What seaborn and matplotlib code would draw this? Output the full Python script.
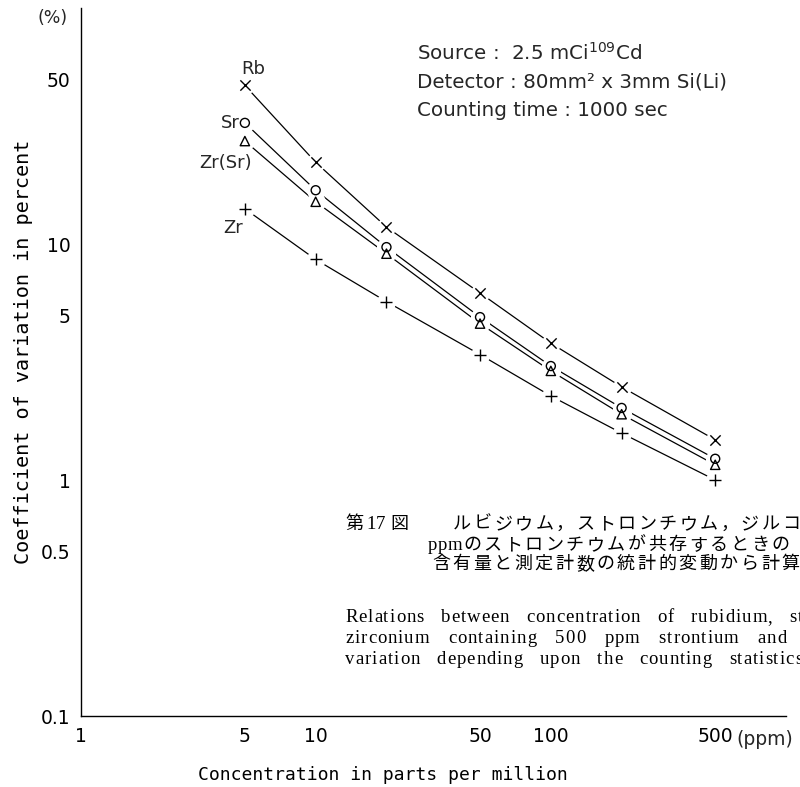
import matplotlib
matplotlib.use("Agg")
import matplotlib.pyplot as plt
from matplotlib.font_manager import FontProperties, findfont, get_font
import seaborn as sns
import pandas as pd

# Concentration (ppm) and coefficient of variation (%) per element
ppm = [5, 10, 20, 50, 100, 200, 500]
rb = [47.0, 22.2, 11.8, 6.2, 3.8, 2.48, 1.48]
sr = [32.6, 16.9, 9.7, 4.9, 3.04, 2.02, 1.23]
zr_sr = [27.3, 15.1, 9.1, 4.6, 2.9, 1.9, 1.16]
zr = [14.1, 8.6, 5.7, 3.4, 2.27, 1.58, 1.0]

series_names = ["Rb", "Sr", "Zr(Sr)", "Zr"]
series_values = [rb, sr, zr_sr, zr]

x_ticks = [1, 5, 10, 50, 100, 500, 1000]
x_tick_labels = ["1", "5", "10", "50", "100", "500", ""]
y_ticks = [0.1, 0.5, 1, 5, 10, 50, 100]
y_tick_labels = ["0.1", "0.5", "1", "5", "10", "50", ""]

df = pd.DataFrame(
    [(n, x, y) for n, vals in zip(series_names, series_values) for x, y in zip(ppm, vals)],
    columns=["element", "ppm", "cv"],
)

W, H, DPI = 800, 787, 100

sns.set_theme(style="white")
plt.rcParams["font.family"] = ["DejaVu Sans"]

fig = plt.figure(figsize=(W / DPI, H / DPI), dpi=DPI)
ax = fig.add_axes([80.5 / W, 1 - 716 / H, 705.5 / W, 708 / H])

# connecting lines
sns.lineplot(data=df, x="ppm", y="cv", hue="element", palette=["black"] * 4,
             legend=False, lw=0.9, ax=ax, sort=True, estimator=None)

# white discs break the lines around each marker
sns.scatterplot(data=df, x="ppm", y="cv", color="white", s=190, linewidth=0,
                legend=False, ax=ax, zorder=3)

marker_style = {
    "Rb": dict(marker="x", s=55, color="black", linewidth=1.0),
    "Sr": dict(marker="o", s=42, facecolors="none", edgecolor="black", linewidth=1.0),
    "Zr(Sr)": dict(marker="^", s=45, facecolors="none", edgecolor="black", linewidth=1.0),
    "Zr": dict(marker="+", s=80, color="black", linewidth=1.0),
}
for name in series_names:
    sub = df[df["element"] == name]
    sns.scatterplot(data=sub, x="ppm", y="cv", legend=False, ax=ax, zorder=4,
                    **marker_style[name])

ax.set_xscale("log")
ax.set_yscale("log")
ax.set_xlim(1, 1000)
ax.set_ylim(0.1, 100)
ax.minorticks_off()
ax.set_xticks(x_ticks)
ax.set_xticklabels(x_tick_labels)
ax.set_yticks(y_ticks)
ax.set_yticklabels(y_tick_labels)
ax.tick_params(axis="both", direction="in", length=7, width=0.9, colors="black",
               labelsize=13.5)
ax.tick_params(axis="x", pad=8)
ax.tick_params(axis="y", pad=7)
for side in ("top", "right"):
    ax.spines[side].set_visible(False)
for side in ("left", "bottom"):
    ax.spines[side].set_color("black")
    ax.spines[side].set_linewidth(1.0)

ax.set_xlabel("Concentration in parts per million", family="DejaVu Sans Mono",
              fontsize=13, color="black")
ax.xaxis.set_label_coords(0.429, -0.071)
ax.set_ylabel("Coefficient of variation in percent", family="DejaVu Sans Mono",
              fontsize=14.5, color="black")
ax.yaxis.set_label_coords(-0.068, 0.514)

# unit annotations
fig.text(53 / W, 1 - 18 / H, "(%)", fontsize=12.5, ha="center", va="center")
ax.annotate("(ppm)", xy=(500, 0), xycoords=("data", "axes fraction"),
            xytext=(15, -17), textcoords="offset points", fontsize=13.5,
            ha="left", va="center")

# series labels next to the first point of each curve
label_offsets = {
    "Rb": ((6, 12), "center"),
    "Sr": ((-4, 0), "right"),
    "Zr(Sr)": ((5, -16), "right"),
    "Zr": ((-1, -14), "right"),
}
for name, vals in zip(series_names, series_values):
    off, ha = label_offsets[name]
    ax.annotate(name, xy=(ppm[0], vals[0]), xytext=off, textcoords="offset points",
                fontsize=13, ha=ha, va="center")

# measurement conditions
info = [
    r"Source :  2.5 mCi$^{109}$Cd",
    "Detector : 80mm\u00b2 x 3mm Si(Li)",
    "Counting time : 1000 sec",
]
for line, yc in zip(info, [53, 82, 110]):
    fig.text(417 / W, 1 - yc / H, line, fontsize=14.3, ha="left", va="center")


def tracked_text(x_px, base_px, text, size, family, tracking, space_px):
    """Draw text one glyph at a time with extra letter spacing."""
    prop = FontProperties(family=family, size=size)
    font = get_font(findfont(prop))
    font.set_size(size, DPI)
    x = x_px
    for ch in text:
        if ch == " ":
            x += space_px
            continue
        fig.text(x / W, 1 - base_px / H, ch, fontproperties=prop,
                 ha="left", va="baseline", color="black")
        x += font.load_char(ord(ch)).linearHoriAdvance / 65536 + tracking


# figure caption (Japanese)
JP = "Noto Sans CJK JP"
SERIF = "Liberation Serif"
jp_size = 13
tracked_text(345, 529, "第", jp_size, JP, 0, 0)
tracked_text(366, 529, "17", 13.5, SERIF, 0.5, 0)
tracked_text(390, 529, "図", jp_size, JP, 0, 0)
tracked_text(453, 529, "ルビジウム，ストロンチウム，ジルコ", jp_size, JP, 2.5, 0)
tracked_text(428, 550, "ppm", 13.5, SERIF, 0.3, 0)
tracked_text(463, 550, "のストロンチウムが共存するときの", jp_size, JP, 2.5, 0)
tracked_text(432, 569, "含有量と測定計数の統計的変動から計算", jp_size, JP, 2.5, 0)

# figure caption (English)
en = ["Relations between concentration of rubidium, st",
      "zirconium containing 500 ppm strontium and",
      "variation depending upon the counting statistics"]
en_base = [622, 643, 664]
en_gap = [16, 18, 16]
for line, yb, gap in zip(en, en_base, en_gap):
    tracked_text(345, yb, line, 13.5, SERIF, 1.0, gap)

fig.savefig("out.png", dpi=DPI)
